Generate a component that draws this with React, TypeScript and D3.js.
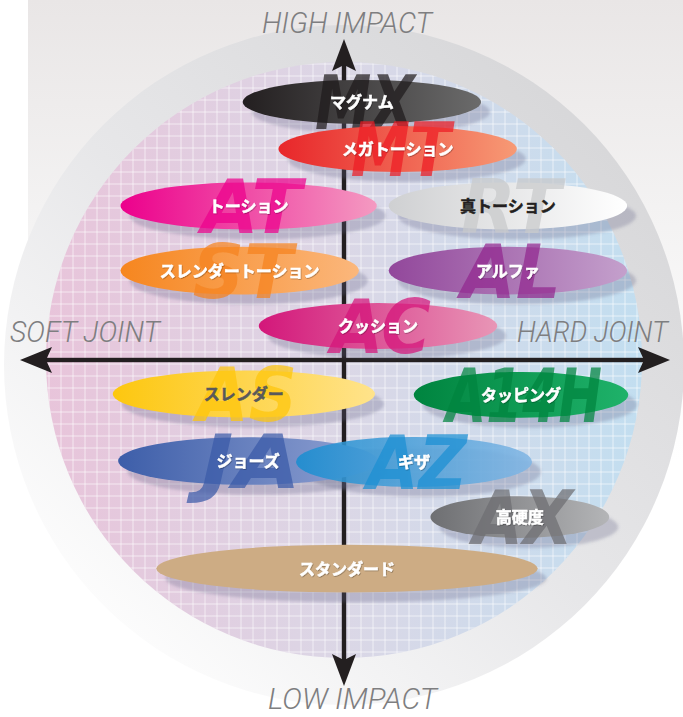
import React from 'react';
import * as d3 from 'd3';

// ---- data ----
const names = ['マグナム', 'メガトーション', 'トーション', '真トーション', 'スレンダートーション', 'アルファ', 'クッション', 'スレンダー', 'タッピング', 'ジョーズ', 'ギザ', '高硬度', 'スタンダード'];
const codes = ['MX', 'MT', 'AT', 'RT', 'ST', 'AL', 'AC', 'AS', 'A14H', 'JA', 'AZ', 'AX', ''];
const jointX = [0.06, 0.18, -0.32, 0.55, -0.35, 0.55, 0.114, -0.336, 0.594, -0.322, 0.235, 0.59, 0.01];
const impactY = [0.866, 0.708, 0.517, 0.517, 0.30, 0.30, 0.114, -0.114, -0.117, -0.339, -0.342, -0.527, -0.70];
const jointSpread = [0.40, 0.40, 0.43, 0.40, 0.40, 0.40, 0.40, 0.44, 0.36, 0.436, 0.396, 0.30, 0.64];
const impactSpread = [0.074, 0.077, 0.079, 0.079, 0.08, 0.08, 0.077, 0.079, 0.077, 0.08, 0.084, 0.07, 0.08];
const fillStart = ['#231f20', '#e8262a', '#ec008c', '#cfd0d2', '#f6861f', '#92479b', '#d3177a', '#fdc70f', '#00843f', '#3d5ea9', '#1a8dd0', '#6e6f72', '#cdac84'];
const fillEnd = ['#6b6b6b', '#f79a75', '#f49ac1', '#ffffff', '#fbb77c', '#c4a0cc', '#e896b6', '#ffe38b', '#1fb26a', '#93a4d4', '#82b6e4', '#b4b5b7', '#cdac84'];
const codeColor = ['#1e1b1c', '#ed1c24', '#ec008c', '#c8c9cb', '#f5821f', '#92278f', '#d4147a', '#fdc50a', '#00843f', '#3a5aa8', '#1a8fd2', '#6d6e71', '#cdac84'];
const textColor = ['#fff', '#fff', '#fff', '#231f20', '#fff', '#fff', '#fff', '#58595b', '#fff', '#fff', '#fff', '#fff', '#fff'];
const axisTop = 'HIGH IMPACT';
const axisBottom = 'LOW IMPACT';
const axisLeft = 'SOFT JOINT';
const axisRight = 'HARD JOINT';

const W = 683;
const H = 717;
const CX = 344;
const CY = 360;
const R = 298;

const x = d3.scaleLinear().domain([-1, 1]).range([CX - R, CX + R]);
const y = d3.scaleLinear().domain([-1, 1]).range([CY + R, CY - R]);
const k = d3.scaleLinear().domain([0, 1]).range([0, R]);

export default function App() {
  const gridStep = 12;
  const gridLines = d3.range(CX - R + 3, CX + R + 2, gridStep);
  const gridLinesY = d3.range(CY - R + 2, CY + R + 4, gridStep);
  const ax = x(0);
  const ay = y(0);
  const items = names.map((n, i) => ({
    n, i,
    cx: x(jointX[i]),
    cy: y(impactY[i]),
    rx: k(jointSpread[i]),
    ry: k(impactSpread[i]),
  }));
  const labelFont = "Roboto, 'Open Sans', sans-serif";
  return (
    <svg width={W} height={H} style={{ position: 'absolute', left: 0, top: 0 }}>
      <defs>
        <linearGradient id="bgTop" x1="0" y1="0" x2="0" y2="1">
          <stop offset="0" stopColor="#e9e6e6" />
          <stop offset="0.45" stopColor="#f3f2f2" />
          <stop offset="1" stopColor="#ffffff" />
        </linearGradient>
        <linearGradient id="ring" x1="0.85" y1="0.15" x2="0.15" y2="0.9">
          <stop offset="0" stopColor="#d8d8da" />
          <stop offset="0.5" stopColor="#e7e7e9" />
          <stop offset="1" stopColor="#fdfdfd" />
        </linearGradient>
        <linearGradient id="inner" x1="0" y1="0" x2="1" y2="0">
          <stop offset="0" stopColor="#e8c4da" />
          <stop offset="0.5" stopColor="#dbd7e6" />
          <stop offset="1" stopColor="#c2def0" />
        </linearGradient>
        <clipPath id="innerClip">
          <circle cx={CX} cy={CY} r={R} />
        </clipPath>
        <filter id="blur" x="-20%" y="-50%" width="140%" height="200%">
          <feGaussianBlur stdDeviation="1.5" />
        </filter>
        <filter id="tshadow" x="-20%" y="-50%" width="140%" height="200%">
          <feDropShadow dx="0.6" dy="0.8" stdDeviation="0.6" floodColor="#000" floodOpacity="0.35" />
        </filter>
        {items.map(d => (
          <linearGradient key={d.i} id={`g${d.i}`} x1="0" y1="0" x2="1" y2="0">
            <stop offset="0" stopColor={fillStart[d.i]} />
            <stop offset="1" stopColor={fillEnd[d.i]} />
          </linearGradient>
        ))}
      </defs>
      <rect x={0} y={0} width={W} height={H} fill="#ffffff" />
      <rect x={28} y={0} width={W - 28} height={460} fill="url(#bgTop)" />
      <circle cx={CX} cy={CY + 5} r={340} fill="url(#ring)" />
      <circle cx={CX} cy={CY} r={R} fill="url(#inner)" />
      <g clipPath="url(#innerClip)" stroke="#ffffff" strokeOpacity={0.6} strokeWidth={1}>
        {gridLines.map((gx, i) => (
          <line key={'v' + i} x1={gx} x2={gx} y1={CY - R} y2={CY + R} />
        ))}
        {gridLinesY.map((gy, i) => (
          <line key={'h' + i} x1={CX - R} x2={CX + R} y1={gy} y2={gy} />
        ))}
      </g>
      {/* axes */}
      <g fill="#231f20" stroke="none">
        <rect x={ax - 2.2} y={60} width={4.4} height={600} />
        <rect x={40} y={ay - 2.2} width={610} height={4.4} />
        <path d={`M${ax},39 L${ax + 12},71 L${ax},65 L${ax - 12},71 Z`} />
        <path d={`M${ax},686 L${ax + 12},654 L${ax},660 L${ax - 12},654 Z`} />
        <path d={`M20,${ay} L52,${ay - 13} L46,${ay} L52,${ay + 13} Z`} />
        <path d={`M670,${ay} L638,${ay - 13} L644,${ay} L638,${ay + 13} Z`} />
      </g>
      {/* shadows */}
      <g filter="url(#blur)">
        {items.map(d => (
          <ellipse key={d.i} cx={d.cx + 9} cy={d.cy + 10} rx={d.rx} ry={d.ry} fill="#5f6180" fillOpacity={0.28} />
        ))}
      </g>
      {items.map(d => (
        <g key={d.i}>
          <ellipse cx={d.cx} cy={d.cy} rx={d.rx} ry={d.ry} fill={`url(#g${d.i})`} fillOpacity={d.n === 'ギザ' ? 0.88 : 1} />
          {codes[d.i] && (
            <text
              x={d.cx + 3}
              y={d.cy + 27}
              textAnchor="middle"
              fontFamily="'DejaVu Sans', sans-serif"
              fontWeight="bold"
              fontStyle="oblique"
              fontSize={74}
              textLength={codes[d.i].length > 2 ? 156 : 100}
              lengthAdjust="spacingAndGlyphs"
              fill={codeColor[d.i]}
              fillOpacity={0.72}
            >
              {codes[d.i]}
            </text>
          )}
          <text
            x={d.cx}
            y={d.cy + 6}
            textAnchor="middle"
            fontFamily="'Noto Sans CJK JP', sans-serif"
            fontWeight="bold"
            fontSize={16}
            fill={textColor[d.i]}
            stroke={textColor[d.i]}
            strokeWidth={0.5}
            filter={textColor[d.i] === '#fff' ? 'url(#tshadow)' : undefined}
          >
            {d.n}
          </text>
        </g>
      ))}
      {/* axis labels */}
      <g fontFamily={labelFont} fontStyle="italic" fontWeight={300} fontSize={30} fill="#7e7e80">
        <text x={262} y={33} textLength={170} lengthAdjust="spacingAndGlyphs">{axisTop}</text>
        <text x={268} y={709} textLength={169} lengthAdjust="spacingAndGlyphs">{axisBottom}</text>
        <text x={10} y={342} textLength={150} lengthAdjust="spacingAndGlyphs">{axisLeft}</text>
        <text x={517} y={342} textLength={151} lengthAdjust="spacingAndGlyphs">{axisRight}</text>
      </g>
    </svg>
  );
}
